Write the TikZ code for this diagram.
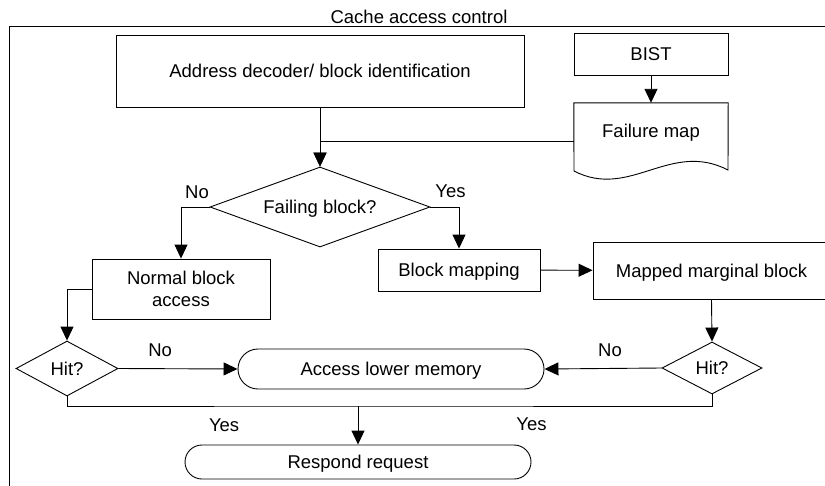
\documentclass[tikz,border=0pt]{standalone}
\usepackage{fontspec}
\setmainfont{Liberation Sans}
\usetikzlibrary{shapes.geometric, shapes.misc, arrows.meta, positioning}

\begin{document}
\begin{tikzpicture}[
    x=1pt, y=-1pt,
    font=\fontsize{18.5}{22}\selectfont,
    box/.style={rectangle, draw, line width=0.9pt, align=center, inner sep=0pt, text height=13.3pt, text depth=0pt},
    decision/.style={diamond, draw, line width=0.9pt, inner sep=0pt, text height=13.3pt, text depth=0pt},
    terminal/.style={rounded rectangle, draw, line width=0.9pt, inner sep=0pt, text height=13.3pt, text depth=0pt},
    arrow/.style={line width=0.9pt, -{Triangle[length=14pt, width=13pt]}},
    link/.style={line width=0.9pt},
    lbl/.style={inner sep=0pt}
]
    \clip (0,0) rectangle (825,485);

    % frame and title
    \draw [link] (9,26) rectangle (840,500);
    \node (title) [lbl, anchor=base] at (419,23) {Cache access control};

    \node (addr) [box, minimum width=408, minimum height=72] at (320,71) {Address decoder/ block identification};
    \node (bist) [box, minimum width=154, minimum height=42] at (651,54) {BIST};
    \node (fmap) [rectangle, minimum width=154, minimum height=76, inner sep=0pt] at (651,141) {};
    \draw [link] (fmap.north west) -- (fmap.north east) -- (728,170)
        .. controls (670,140) and (630,200) .. (574,171) -- cycle;
    \node [lbl, anchor=base] at (651,137) {Failure map};

    \node (fail) [decision, aspect=2.75, minimum width=220, minimum height=80] at (320,207) {Failing block?};
    \node (normal) [box, minimum width=178, minimum height=60, text height=, text depth=] at (181,289) {Normal block\\access};
    \node (bmap) [box, minimum width=162, minimum height=42] at (459,270) {Block mapping};
    \node (mapped) [box, minimum width=237, minimum height=57] at (711.5,270.5) {Mapped marginal block};
    \node (hitL) [decision, aspect=1.85, minimum width=102, minimum height=55] at (67,368.5) {Hit?};
    \node (hitR) [decision, aspect=1.92, minimum width=100, minimum height=52] at (712,368) {Hit?};
    \node (lower) [terminal, minimum width=306, minimum height=40] at (391,369) {Access lower memory};
    \node (respond) [terminal, minimum width=346, minimum height=34] at (358,462) {Respond request};
    \coordinate (join) at (358,406);

    \draw [arrow] (addr) -- (fail);
    \draw [arrow] (fmap.west) -| (fail.north);
    \draw [arrow] (bist) -- (fmap);
    \draw [arrow] (fail.west) -| node[lbl, pos=0.22, above=8pt] {No} (normal.north);
    \draw [arrow] (fail.east) -| node[lbl, pos=0.35, above=9pt] {Yes} (bmap.north);
    \draw [arrow] (normal.west) -| (hitL.north);
    \draw [arrow] (bmap) -- (mapped);
    \draw [arrow] (mapped.south) -- (hitR.north);
    \draw [arrow] (hitL.east) -- node[lbl, pos=0.35, above=12pt] {No} (lower.west);
    \draw [arrow] (hitR.west) -- node[lbl, pos=0.44, above=11pt] {No} (lower.east);
    \draw [link] (hitL.south) |- node[lbl, pos=0.77, below=12pt] {Yes} (join)
        -| node[lbl, pos=0.245, below=11pt] {Yes} (hitR.south);
    \draw [arrow] (join) -- (respond.north);
\end{tikzpicture}
\end{document}
